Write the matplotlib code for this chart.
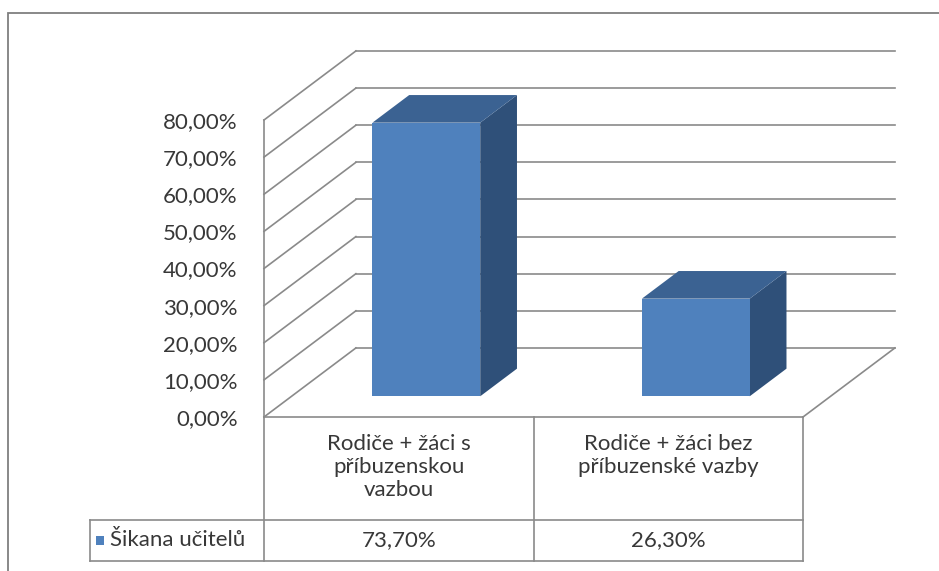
import matplotlib
matplotlib.use("Agg")
import matplotlib.pyplot as plt
from matplotlib.patches import Polygon, Rectangle

# Data
categories = ["Rodiče + žáci s\npříbuzenskou\nvazbou",
              "Rodiče + žáci bez\npříbuzenské vazby"]
values = [73.70, 26.30]
series_name = "Šikana učitelů"
y_ticks = [0, 10, 20, 30, 40, 50, 60, 70, 80]

# Style
FRONT = "#4f81bd"
TOP = "#3b6292"
SIDE = "#2f5079"
GRID = "#8a8a8a"
TEXT = "#383838"
FONT = "Lato"

# Oblique depth of the 3D box (category units, percent units)
DX = 0.341
DY = 18.6
BAR_W = 0.4
DEPTH_FRONT, DEPTH_BACK = 0.3, 0.7

W, H = 939, 571
fig = plt.figure(figsize=(W / 100, H / 100), dpi=100)
ax = fig.add_axes([264 / W, (H - 417) / H, 539 / W, 297 / H])
ax.set_xlim(0, len(categories))
ax.set_ylim(0, y_ticks[-1])
for s in ax.spines.values():
    s.set_visible(False)
ax.set_xticks([])
ax.set_yticks(y_ticks)
ax.set_yticklabels([f"{t:.2f}%".replace(".", ",") for t in y_ticks],
                   fontsize=16, color=TEXT, family=FONT)
ax.tick_params(axis="y", length=0, pad=19)

n = len(categories)
cat_px = 539 / n


def px_y(p):
    # pixel row of the picture -> value units
    return (417 - p) / 297 * y_ticks[-1]


def px_x(p):
    # pixel column of the picture -> category units
    return (p - 264) / cat_px


# Walls and grid
lk = dict(color=GRID, lw=1.2, clip_on=False, zorder=1)
ax.plot([0, 0], [0, y_ticks[-1]], **lk)
for t in y_ticks:
    ax.plot([0, DX], [t, t + DY], **lk)
    ax.plot([DX, n + DX], [t + DY, t + DY], **lk)
ax.plot([n, n + DX], [0, DY], **lk)


# Bars
def pt(x, y, d):
    return (x + d * DX, y + d * DY)


for i, v in enumerate(values):
    x0 = i + 0.5 - BAR_W / 2
    x1 = i + 0.5 + BAR_W / 2
    front = [pt(x0, 0, DEPTH_FRONT), pt(x1, 0, DEPTH_FRONT),
             pt(x1, v, DEPTH_FRONT), pt(x0, v, DEPTH_FRONT)]
    top = [pt(x0, v, DEPTH_FRONT), pt(x1, v, DEPTH_FRONT),
           pt(x1, v, DEPTH_BACK), pt(x0, v, DEPTH_BACK)]
    side = [pt(x1, 0, DEPTH_FRONT), pt(x1, 0, DEPTH_BACK),
            pt(x1, v, DEPTH_BACK), pt(x1, v, DEPTH_FRONT)]
    for poly, c in [(side, SIDE), (top, TOP), (front, FRONT)]:
        ax.add_patch(Polygon(poly, closed=True, facecolor=c, edgecolor="none",
                             zorder=3, clip_on=False))

# Data table
row1 = px_y(520)
row2 = px_y(561)
leg_left = px_x(90)
tk = dict(color=GRID, lw=1.2, clip_on=False, zorder=2)
ax.plot([0, n], [0, 0], **tk)
ax.plot([leg_left, n], [row1, row1], **tk)
ax.plot([leg_left, n], [row2, row2], **tk)
ax.plot([leg_left, leg_left], [row1, row2], **tk)
for k in range(n + 1):
    ax.plot([k, k], [0, row2], **tk)

for i, (c, v) in enumerate(zip(categories, values)):
    ax.text(i + 0.5, px_y(434), c, ha="center", va="top", fontsize=16,
            color=TEXT, family=FONT, linespacing=1.2)
    ax.text(i + 0.5, (row1 + row2) / 2, f"{v:.2f}%".replace(".", ","),
            ha="center", va="center", fontsize=16, color=TEXT, family=FONT)

mid = (row1 + row2) / 2
ax.add_patch(Rectangle((px_x(96), mid - 1.1), px_x(104) - px_x(96), 2.2,
                       facecolor=FRONT, edgecolor="none", clip_on=False))
ax.text(px_x(110), mid, series_name, ha="left", va="center",
        fontsize=16, color=TEXT, family=FONT)

# Chart frame
fig.patches.append(Rectangle((8 / W, -0.1), 1.2, 1 - 13 / H + 0.1,
                             transform=fig.transFigure, fill=False,
                             edgecolor="#7f7f7f", lw=1.3))

fig.savefig("out.png", dpi=100)
